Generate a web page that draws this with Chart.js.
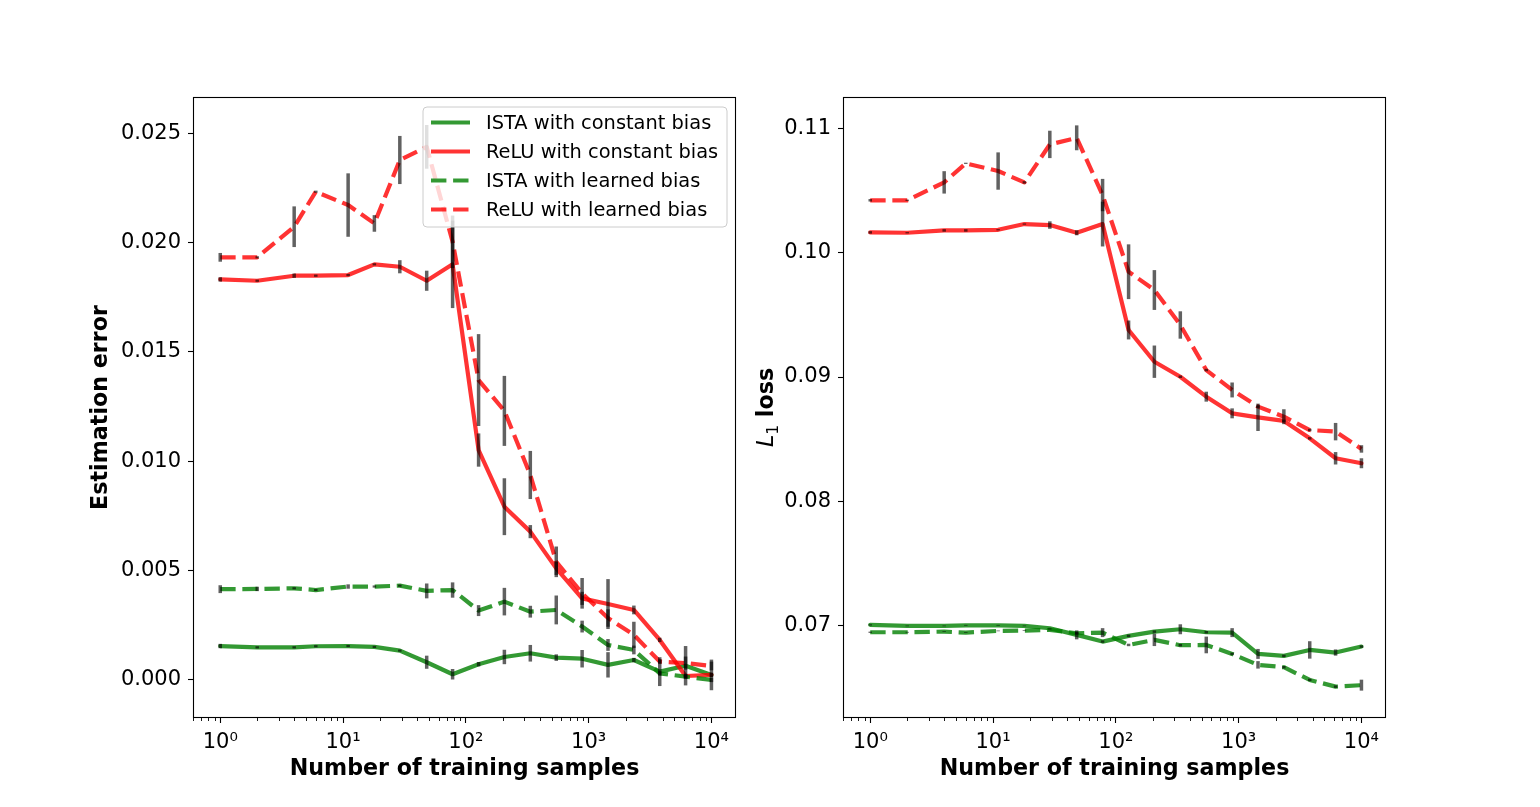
<!DOCTYPE html>
<html><head><meta charset="utf-8">
<script src="https://cdn.jsdelivr.net/npm/chart.js@4.4.1/dist/chart.umd.min.js"></script>
<style>
html,body{margin:0;padding:0;background:#fff;}
#wrap{position:relative;width:1540px;height:807px;overflow:hidden;background:#fff;}
#c1{position:absolute;left:0;top:0;width:770px;height:807px;}
#c2{position:absolute;left:740px;top:0;width:800px;height:807px;}
</style></head><body>
<div id="wrap"><canvas id="c1" width="770" height="807"></canvas><canvas id="c2" width="800" height="807"></canvas></div>
<script>
// ---------- data ----------
const samples = [1,2,4,6,11,18,29,48,78,127,206,335,545,885,1438,2335,3792,6158,10000];
const seriesLabels = ['ISTA with constant bias','ReLU with constant bias','ISTA with learned bias','ReLU with learned bias'];
const xTickValues = [1,10,100,1000,10000];
const xTickLabels = ['10\u2070','10\u00b9','10\u00b2','10\u00b3','10\u2074'];
const yTicksLeft = [0,0.005,0.010,0.015,0.020,0.025];
const yTicksRight = [0.07,0.08,0.09,0.10,0.11];

// left panel: estimation error
const istaConstL = [0.00155,0.00149,0.00149,0.00154,0.00155,0.00151,0.00134,0.00081,0.00026,0.00072,0.00105,0.00122,0.00102,0.00097,0.00069,0.00091,0.00038,0.00065,0.00023];
const istaConstLErr = [0.0001,0.00005,0.00005,0.00005,0.00005,0.00005,0.00005,0.0003,0.00024,0.0001,0.00033,0.00038,0.00015,0.0004,0.00058,0.0001,0.00066,0.0009,0.0007];
const reluConstL = [0.01831,0.01825,0.01848,0.01848,0.01851,0.01900,0.01889,0.01825,0.01900,0.01051,0.00792,0.00678,0.00510,0.00373,0.00347,0.00320,0.00183,0.00018,0.00023];
const reluConstLErr = [0.0001,0.00005,0.0001,0.00005,0.00005,0.00005,0.0003,0.00046,0.0020,0.00076,0.0013,0.0003,0.0003,0.0003,0.00114,0.0002,0.0001,0.0001,0.0001];
const istaLearnL = [0.00415,0.00416,0.00419,0.00411,0.00427,0.00427,0.00431,0.00407,0.00411,0.00317,0.00358,0.00312,0.00320,0.00244,0.00160,0.00137,0.00030,0.00015,0.00000];
const istaLearnLErr = [0.00018,0.0001,0.00005,0.00005,0.0001,0.00005,0.00005,0.00034,0.00035,0.00025,0.00063,0.00027,0.00066,0.00027,0.00027,0.0002,0.0001,0.0001,0.0001];
const reluLearnL = [0.01932,0.01932,0.02072,0.02232,0.02171,0.02087,0.02377,0.02437,0.02003,0.01371,0.01230,0.00937,0.00540,0.00396,0.00283,0.00206,0.00084,0.00077,0.00064];
const reluLearnLErr = [0.0002,0.00005,0.00093,0.00005,0.00145,0.00038,0.0011,0.0010,0.0012,0.0021,0.0016,0.0011,0.0007,0.0007,0.0004,0.0006,0.0001,0.0003,0.0002];

// right panel: L1 loss
const istaConstR = [0.07008,0.07000,0.07000,0.07005,0.07005,0.07000,0.06981,0.06928,0.06874,0.06920,0.06954,0.06973,0.06949,0.06946,0.06775,0.06759,0.06807,0.06786,0.06834];
const istaConstRErr = [0.00005,0.00003,0.00003,0.00003,0.00003,0.00003,0.00003,0.00036,0.0001,0.0001,0.0001,0.0004,0.0001,0.00036,0.0004,0.0001,0.0007,0.00025,0.0001];
const reluConstR = [0.10162,0.10159,0.10178,0.10178,0.10183,0.10229,0.10221,0.10159,0.10229,0.09378,0.09123,0.09002,0.08842,0.08708,0.08676,0.08647,0.08507,0.08347,0.08307];
const reluConstRErr = [0.0001,0.00005,0.0001,0.0001,0.00005,0.00005,0.0003,0.0002,0.0018,0.00076,0.0013,0.0001,0.0004,0.0004,0.0011,0.0001,0.0001,0.0005,0.0004];
const istaLearnR = [0.06949,0.06949,0.06954,0.06946,0.06960,0.06962,0.06968,0.06941,0.06946,0.06847,0.06888,0.06845,0.06847,0.06775,0.06687,0.06668,0.06566,0.06512,0.06524];
const istaLearnRErr = [0.00005,0.00003,0.00003,0.00003,0.00003,0.00003,0.00003,0.0001,0.00036,0.0001,0.0005,0.0001,0.00067,0.0001,0.0003,0.0001,0.0001,0.0001,0.00044];
const reluLearnR = [0.10420,0.10420,0.10564,0.10717,0.10655,0.10564,0.10869,0.10922,0.10462,0.09846,0.09699,0.09418,0.09056,0.08896,0.08762,0.08681,0.08574,0.08561,0.08422];
const reluLearnRErr = [0.0001,0.00005,0.0009,0.00005,0.0015,0.0001,0.0011,0.0010,0.0013,0.0022,0.0016,0.0011,0.0001,0.0006,0.0001,0.0006,0.0001,0.0007,0.0003];

// ---------- styling ----------
const FONT = 'DejaVu Sans';
const GREEN = 'rgba(0,128,0,0.8)';
const RED = 'rgba(255,0,0,0.8)';
const DASH = [15.4, 6.7];
const TICK_PX = 21, LEGEND_PX = 19.4, LABEL_PX = 22.2;

function pts(arr){ return samples.map((x,i)=>({x:x, y:arr[i]})); }
function ds(label, arr, errs, color, dashed, order){
  return {label:label, data:pts(arr), errs:errs, borderColor:color, backgroundColor:color,
    borderWidth:4.2, borderDash: dashed?DASH:[], borderCapStyle: dashed?'butt':'round',
    borderJoinStyle:'round', pointRadius:0, tension:0, fill:false, order:order};
}

const errorBarPlugin = {
  id:'errbars',
  afterDatasetsDraw(chart){
    const ctx = chart.ctx, xs = chart.scales.x, ys = chart.scales.y;
    ctx.save();
    ctx.strokeStyle = 'rgba(0,0,0,0.62)';
    ctx.lineWidth = 3.5;
    ctx.lineCap = 'butt';
    chart.data.datasets.forEach(d=>{
      d.data.forEach((p,i)=>{
        const e = d.errs[i];
        const x = xs.getPixelForValue(p.x);
        ctx.beginPath();
        ctx.moveTo(x, ys.getPixelForValue(p.y - e));
        ctx.lineTo(x, ys.getPixelForValue(p.y + e));
        ctx.stroke();
      });
    });
    ctx.restore();
  }
};

const framePlugin = {
  id:'frame',
  afterDraw(chart){
    const ctx = chart.ctx, a = chart.chartArea, xs = chart.scales.x;
    ctx.save();
    ctx.strokeStyle = '#000';
    ctx.lineWidth = 1.1;
    ctx.strokeRect(Math.round(a.left)+0.5, Math.round(a.top)+0.5, Math.round(a.right-a.left)-1, Math.round(a.bottom-a.top)-1);
    // minor ticks
    ctx.lineWidth = 0.9;
    for (let k=-1;k<=4;k++){
      for (let m=2;m<=9;m++){
        const v = m*Math.pow(10,k);
        if (v < xs.min || v > xs.max) continue;
        const x = Math.round(xs.getPixelForValue(v))+0.5;
        ctx.beginPath(); ctx.moveTo(x, a.bottom); ctx.lineTo(x, a.bottom+3); ctx.stroke();
      }
    }
    ctx.restore();
  }
};

const legendPlugin = {
  id:'inlegend',
  afterDraw(chart){
    if (!chart.options.plugins.inlegend || !chart.options.plugins.inlegend.show) return;
    const ctx = chart.ctx;
    const bx = 423, by = 107, bw = 304, bh = 120, r = 4;
    ctx.save();
    ctx.beginPath();
    ctx.moveTo(bx+r,by); ctx.lineTo(bx+bw-r,by); ctx.quadraticCurveTo(bx+bw,by,bx+bw,by+r);
    ctx.lineTo(bx+bw,by+bh-r); ctx.quadraticCurveTo(bx+bw,by+bh,bx+bw-r,by+bh);
    ctx.lineTo(bx+r,by+bh); ctx.quadraticCurveTo(bx,by+bh,bx,by+bh-r);
    ctx.lineTo(bx,by+r); ctx.quadraticCurveTo(bx,by,bx+r,by);
    ctx.closePath();
    ctx.fillStyle = 'rgba(255,255,255,0.8)'; ctx.fill();
    ctx.strokeStyle = '#cccccc'; ctx.lineWidth = 1; ctx.stroke();
    ctx.font = LEGEND_PX + 'px "' + FONT + '"';
    ctx.textBaseline = 'middle'; ctx.textAlign = 'left';
    chart.data.datasets.forEach((d,i)=>{
      const y = by + 15.5 + i*29;
      ctx.beginPath();
      ctx.setLineDash(d.borderDash);
      ctx.lineWidth = d.borderWidth; ctx.strokeStyle = d.borderColor; ctx.lineCap = 'butt';
      ctx.moveTo(431, y); ctx.lineTo(470, y); ctx.stroke();
      ctx.setLineDash([]);
      ctx.fillStyle = '#000';
      ctx.fillText(d.label, 486, y+1);
    });
    ctx.restore();
  }
};

const l1TitlePlugin = {
  id:'l1title',
  afterDraw(chart){
    if (!chart.options.plugins.l1title || !chart.options.plugins.l1title.show) return;
    const ctx = chart.ctx;
    const cx = 25, cy = 407.5;
    ctx.save();
    ctx.translate(cx, cy); ctx.rotate(-Math.PI/2);
    const fL = 'italic ' + LABEL_PX + 'px "' + FONT + '"';
    const fS = (LABEL_PX*0.7).toFixed(1) + 'px "' + FONT + '"';
    const fB = 'bold ' + LABEL_PX + 'px "' + FONT + '"';
    ctx.font = fL; const wL = ctx.measureText('L').width;
    ctx.font = fS; const wS = ctx.measureText('1').width;
    ctx.font = fB; const wB = ctx.measureText(' loss').width;
    let x = -(wL + wS + wB)/2;
    const base = 8;
    ctx.fillStyle = '#000'; ctx.textBaseline = 'alphabetic'; ctx.textAlign = 'left';
    ctx.font = fL; ctx.fillText('L', x, base); x += wL;
    ctx.font = fS; ctx.fillText('1', x, base + 4.5); x += wS;
    ctx.font = fB; ctx.fillText(' loss', x, base);
    ctx.restore();
  }
};

function makeChart(id, sets, yMin, yMax, yTicks, yDigits, yTitle, pad, yWidth, showLegend, showL1){
  return new Chart(document.getElementById(id), {
    type:'line',
    data:{datasets:sets},
    options:{
      responsive:false, animation:false, events:[],
      devicePixelRatio: window.devicePixelRatio || 1,
      layout:{padding:pad},
      plugins:{legend:{display:false}, tooltip:{enabled:false},
        inlegend:{show:showLegend}, l1title:{show:showL1}},
      scales:{
        x:{type:'logarithmic', min:Math.pow(10,-0.2), max:Math.pow(10,4.2),
          afterBuildTicks:s=>{ s.ticks = xTickValues.map(v=>({value:v})); },
          afterFit:s=>{ s.height = 65; },
          grid:{display:true, drawOnChartArea:false, drawTicks:true, tickLength:5, tickColor:'#000', tickWidth:1.1},
          border:{display:false},
          ticks:{autoSkip:false, maxRotation:0, padding:7, color:'#000',
            font:{family:FONT, size:TICK_PX},
            callback:v=>{ const i = xTickValues.indexOf(v); return i>=0 ? xTickLabels[i] : ''; }},
          title:{display:true, text:'Number of training samples', color:'#000', padding:0,
            font:{family:FONT, size:LABEL_PX, weight:'bold'}}
        },
        y:{type:'linear', min:yMin, max:yMax,
          afterBuildTicks:s=>{ s.ticks = yTicks.map(v=>({value:v})); },
          afterFit:s=>{ s.width = yWidth; },
          grid:{display:true, drawOnChartArea:false, drawTicks:true, tickLength:5, tickColor:'#000', tickWidth:1.1},
          border:{display:false},
          ticks:{autoSkip:false, padding:7, color:'#000',
            font:{family:FONT, size:TICK_PX},
            callback:v=>Number(v).toFixed(yDigits)},
          title:{display: !!yTitle, text: yTitle || '', color:'#000', padding:0,
            font:{family:FONT, size:LABEL_PX, weight:'bold'}}
        }
      }
    },
    plugins:[errorBarPlugin, framePlugin, legendPlugin, l1TitlePlugin]
  });
}

const leftSets = [
  ds(seriesLabels[0], istaConstL, istaConstLErr, GREEN, false, 3),
  ds(seriesLabels[1], reluConstL, reluConstLErr, RED, false, 2),
  ds(seriesLabels[2], istaLearnL, istaLearnLErr, GREEN, true, 1),
  ds(seriesLabels[3], reluLearnL, reluLearnLErr, RED, true, 0)
];
const rightSets = [
  ds(seriesLabels[0], istaConstR, istaConstRErr, GREEN, false, 3),
  ds(seriesLabels[1], reluConstR, reluConstRErr, RED, false, 2),
  ds(seriesLabels[2], istaLearnR, istaLearnRErr, GREEN, true, 1),
  ds(seriesLabels[3], reluLearnR, reluLearnRErr, RED, true, 0)
];

makeChart('c1', leftSets, -0.00174, 0.02665, yTicksLeft, 3, 'Estimation error',
  {left:88, top:97, right:34, bottom:24}, 105, true, false);
makeChart('c2', rightSets, 0.0626, 0.1125, yTicksRight, 2, '',
  {left:14, top:97, right:154, bottom:24}, 89, false, true);
</script>
</body></html>
